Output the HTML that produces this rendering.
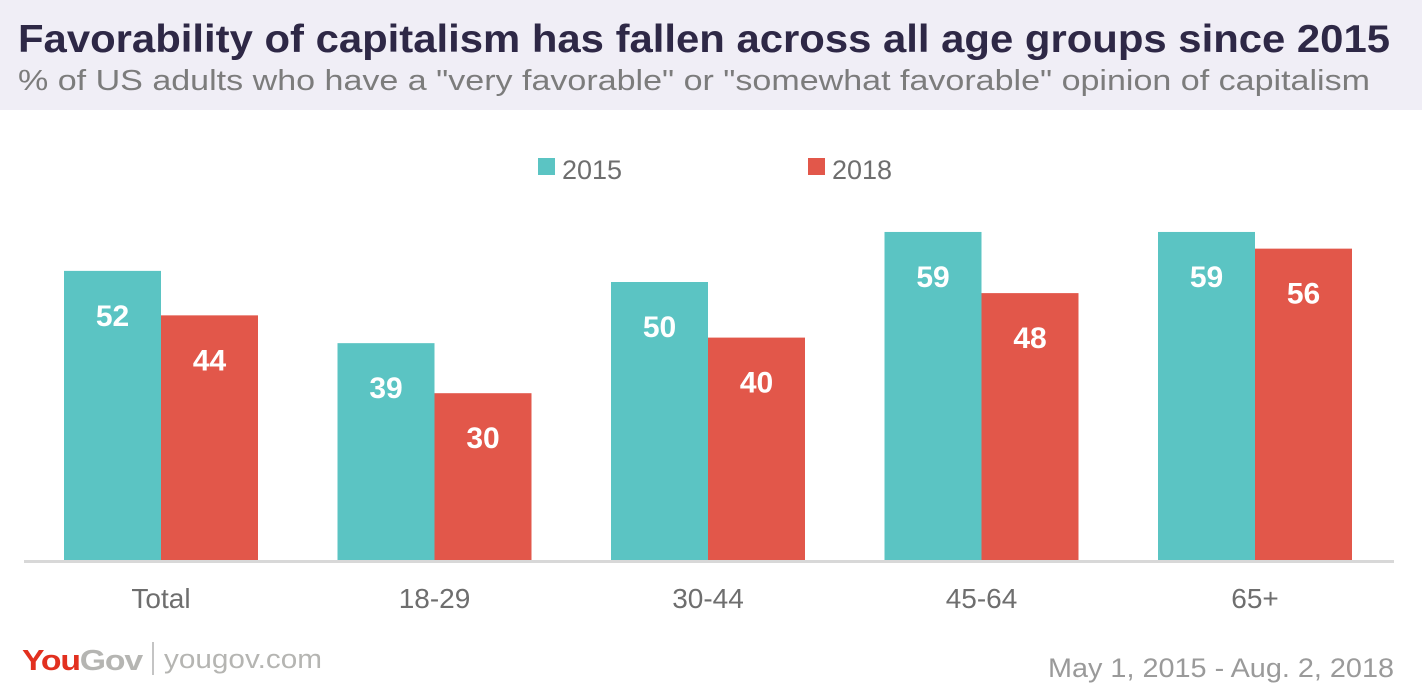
<!DOCTYPE html>
<html><head><meta charset="utf-8"><style>
body{margin:0;width:1422px;height:694px;background:#fff;overflow:hidden;font-family:"Liberation Sans",sans-serif}
</style></head><body>
<svg width="1422" height="694" xmlns="http://www.w3.org/2000/svg">
<rect x="0" y="0" width="1422" height="110" fill="#f0eef6"/>
<text x="18" y="52" font-size="39" font-weight="bold" fill="#2e2846" textLength="1372" lengthAdjust="spacingAndGlyphs">Favorability of capitalism has fallen across all age groups since 2015</text>
<text x="18" y="90" font-size="29" fill="#7c7c7c" textLength="1352" lengthAdjust="spacingAndGlyphs">% of US adults who have a "very favorable" or "somewhat favorable" opinion of capitalism</text>
<rect x="538" y="158" width="17" height="17" fill="#5bc4c3"/>
<text x="562" y="179" font-size="27" fill="#6e6e6e">2015</text>
<rect x="808" y="158" width="17" height="17" fill="#e2574a"/>
<text x="832" y="179" font-size="27" fill="#6e6e6e">2018</text>
<g id="bars"></g>
<rect x="24" y="560" width="1370" height="3" fill="#d8d8d8"/>
<text x="22" y="670" font-size="29" font-weight="bold" fill="#e2301f" letter-spacing="-1" textLength="120" lengthAdjust="spacingAndGlyphs">You<tspan fill="#b5b5b2">Gov</tspan></text>
<rect x="152" y="642" width="2" height="33" fill="#c4c4c4"/>
<text x="164" y="668" font-size="27" fill="#b5b5b2" textLength="158" lengthAdjust="spacingAndGlyphs">yougov.com</text>
<text x="1394" y="677" font-size="27" fill="#9a9a9a" text-anchor="end" textLength="346" lengthAdjust="spacingAndGlyphs">May 1, 2015 - Aug. 2, 2018</text>
</svg>
<script>
const categories=["Total","18-29","30-44","45-64","65+"];
const values2015=[52,39,50,59,59];
const values2018=[44,30,40,48,56];
const ns="http://www.w3.org/2000/svg";
const g=document.getElementById("bars");
const base=560, pxPer=5.56, x0=64, step=273.5, bw=97;
function y(v){return base-v*pxPer;}
function mk(t,a){const e=document.createElementNS(ns,t);for(const k in a)e.setAttribute(k,a[k]);g.appendChild(e);return e;}
categories.forEach((c,i)=>{
  [[values2015,"#5bc4c3",0,"2015"],[values2018,"#e2574a",1,"2018"]].forEach(([arr,col,j,yr])=>{
    const v=arr[i], x=x0+i*step+j*bw;
    const r=mk("rect",{x:x,y:y(v),width:bw,height:v*pxPer,fill:col});
    
    
    const t=mk("text",{x:x+bw/2,y:y(v)+55,"font-size":30,"font-weight":"bold",fill:"#fff","text-anchor":"middle"});
    t.textContent=v;
    
    
  });
  const l=mk("text",{x:x0+i*step+bw,y:608,"font-size":28,fill:"#6e6e6e","text-anchor":"middle"});
  l.textContent=c;
  
  
});
</script>
</body></html>
